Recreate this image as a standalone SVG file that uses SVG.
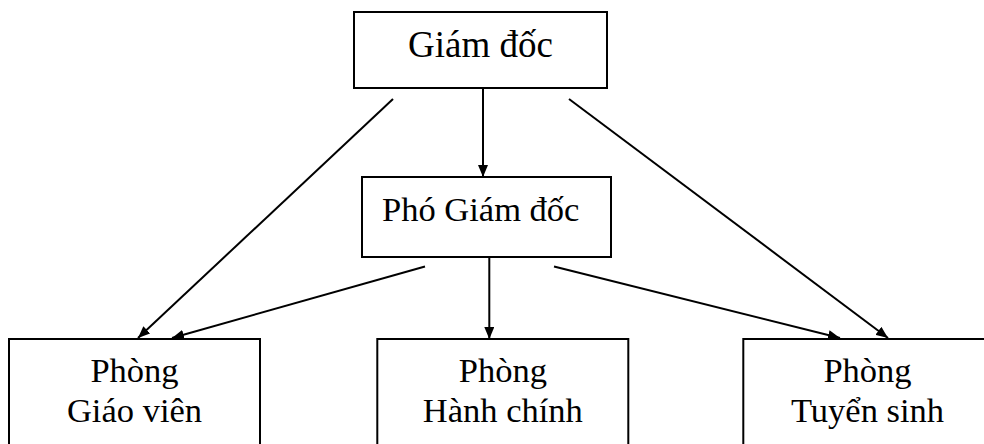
<svg xmlns="http://www.w3.org/2000/svg" width="984" height="444" viewBox="0 0 984 444">
  <defs>
    <style>
      .box { fill: #ffffff; stroke: #000000; stroke-width: 2; }
      .lbl { font-family: "Liberation Serif", "Times New Roman", serif; fill: #000000; }
      .edge { stroke: #000000; stroke-width: 2; fill: none; marker-end: url(#arrow); }
    </style>
    <marker id="arrow" viewBox="0 0 12 10" refX="12" refY="5" markerWidth="6" markerHeight="5" orient="auto" markerUnits="strokeWidth">
      <path d="M0,0 L12,5 L0,10 z" fill="#000000"/>
    </marker>
  </defs>
  <rect x="0" y="0" width="984" height="444" fill="#ffffff"/>

  <g id="connectors">
    <line class="edge" x1="483" y1="88" x2="483" y2="177"/>
    <line class="edge" x1="393" y1="99" x2="138" y2="338"/>
    <line class="edge" x1="569" y1="99" x2="888" y2="338"/>
    <line class="edge" x1="425" y1="266.5" x2="172" y2="338"/>
    <line class="edge" x1="489.3" y1="257" x2="489.3" y2="339"/>
    <line class="edge" x1="554" y1="266.5" x2="840" y2="338"/>
  </g>

  <g id="giam-doc">
    <rect class="box" x="354" y="12" width="253" height="76"/>
    <text class="lbl" x="480.5" y="57" font-size="37" text-anchor="middle">Giám đốc</text>
  </g>

  <g id="pho-giam-doc">
    <rect class="box" x="362" y="177" width="249" height="80"/>
    <text class="lbl" x="382" y="221" font-size="34.5">Phó Giám đốc</text>
  </g>

  <g id="phong-giao-vien">
    <rect class="box" x="9" y="339" width="251" height="130"/>
    <text class="lbl" x="134.5" y="381.7" font-size="34.5" text-anchor="middle">Phòng</text>
    <text class="lbl" x="134.5" y="421.7" font-size="34.5" text-anchor="middle">Giáo viên</text>
  </g>

  <g id="phong-hanh-chinh">
    <rect class="box" x="377.3" y="339" width="251" height="130"/>
    <text class="lbl" x="502.8" y="381.7" font-size="34.5" text-anchor="middle">Phòng</text>
    <text class="lbl" x="502.8" y="421.7" font-size="34.5" text-anchor="middle">Hành chính</text>
  </g>

  <g id="phong-tuyen-sinh">
    <rect class="box" x="743.3" y="339" width="260" height="130"/>
    <text class="lbl" x="867.5" y="381.7" font-size="34.5" text-anchor="middle">Phòng</text>
    <text class="lbl" x="867.5" y="421.7" font-size="34.5" text-anchor="middle">Tuyển sinh</text>
  </g>
</svg>
